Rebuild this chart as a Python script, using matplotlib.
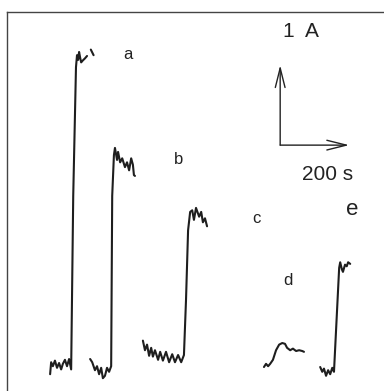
"""
Current-time traces (a-e) with 1 A / 200 s scale bar.
"""

import matplotlib
matplotlib.use("Agg")
import matplotlib.pyplot as plt

plt.rcParams['font.family'] = ['Liberation Sans', 'DejaVu Sans']

# time (s) and current (A)
a_t = [125, 128, 133, 139, 145, 151, 157, 162, 168, 174, 180, 186,
       192, 200, 203, 206, 209, 212, 215, 219, 226, 232]
a_i = [0.21, 0.36, 0.31, 0.38, 0.29, 0.35, 0.27, 0.34, 0.39, 0.31, 0.40, 0.27,
       2.44, 4.05, 4.20, 4.14, 4.24, 4.17, 4.11, 4.13, 4.16, 4.19]
a2_t = [243, 251]
a2_i = [4.27, 4.20]

b_t = [241, 247, 255, 261, 267, 273, 278, 284, 290, 296, 302, 305, 310, 313,
       319, 322, 328, 334, 342, 348, 354, 360, 365, 368, 371]
b_i = [0.40, 0.36, 0.26, 0.31, 0.21, 0.29, 0.16, 0.19, 0.29, 0.24, 0.31, 2.44,
       2.95, 3.04, 2.89, 2.99, 2.86, 2.91, 2.80, 2.86, 2.76, 2.91, 2.83, 2.70, 2.69]

c_t = [394, 400, 406, 412, 418, 423, 429, 438, 444, 452, 461, 470, 479, 487,
       496, 505, 513, 519, 525, 531, 537, 542, 548, 557, 563, 568, 574, 580]
c_i = [0.63, 0.51, 0.58, 0.44, 0.54, 0.43, 0.51, 0.39, 0.49, 0.38, 0.49, 0.36,
       0.46, 0.36, 0.45, 0.36, 0.45, 1.14, 2.01, 2.24, 2.26, 2.14, 2.29, 2.18,
       2.24, 2.11, 2.16, 2.06]

d_t = [745, 751, 757, 763, 771, 780, 789, 798, 806, 812, 821, 829, 838, 847, 856, 861]
d_i = [0.30, 0.34, 0.31, 0.34, 0.39, 0.51, 0.58, 0.60, 0.59, 0.54, 0.51, 0.53,
       0.50, 0.51, 0.50, 0.49]

e_t = [908, 914, 919, 925, 931, 937, 943, 948, 963, 966, 971, 974, 980, 985, 989, 995]
e_i = [0.30, 0.24, 0.28, 0.19, 0.26, 0.21, 0.29, 0.24, 1.54, 1.61, 1.52, 1.49,
       1.58, 1.56, 1.61, 1.59]

labels = ['a', 'b', 'c', 'd', 'e']
label_t = [351, 496, 722, 815, 1000]
label_i = [4.21, 2.89, 2.16, 1.38, 2.27]
label_size = [12, 12, 12, 12, 16]

bar_t0, bar_i0 = 792, 3.075
bar_dt, bar_di = 200, 1.0

fig = plt.figure(figsize=(3.84, 3.91), dpi=100)
ax = fig.add_axes([7 / 384, 0, 377 / 384, 379 / 391])

line_kw = dict(color='#1e1e1e', lw=1.5, solid_joinstyle='round', solid_capstyle='round')
for t, i in [(a_t, a_i), (a2_t, a2_i), (b_t, b_i), (c_t, c_i), (d_t, d_i), (e_t, e_i)]:
    ax.plot(t, i, **line_kw)

for lab, t, i, s in zip(labels, label_t, label_i, label_size):
    ax.text(t, i, lab, fontsize=s, ha='center', va='center', color='#222222')

# scale bar
arr = dict(arrowstyle='->,head_length=1.4,head_width=0.35', color='#222222', lw=1.0,
           shrinkA=0, shrinkB=0)
ax.annotate('', xy=(bar_t0, bar_i0 + bar_di), xytext=(bar_t0, bar_i0), arrowprops=arr)
ax.annotate('', xy=(bar_t0 + bar_dt, bar_i0), xytext=(bar_t0, bar_i0), arrowprops=arr)
ax.text(853, 4.49, '1  A', fontsize=15, ha='center', va='center', color='#222222')
ax.text(928, 2.71, '200 s', fontsize=15, ha='center', va='center', color='#222222')

ax.set_xlim(0, 1093)
ax.set_ylim(0, 4.74)
ax.set_xticks([])
ax.set_yticks([])
ax.spines['right'].set_visible(False)
ax.spines['bottom'].set_visible(False)
for s in ['left', 'top']:
    ax.spines[s].set_color('#444444')
    ax.spines[s].set_linewidth(1.0)

fig.savefig('out.png', dpi=100)
